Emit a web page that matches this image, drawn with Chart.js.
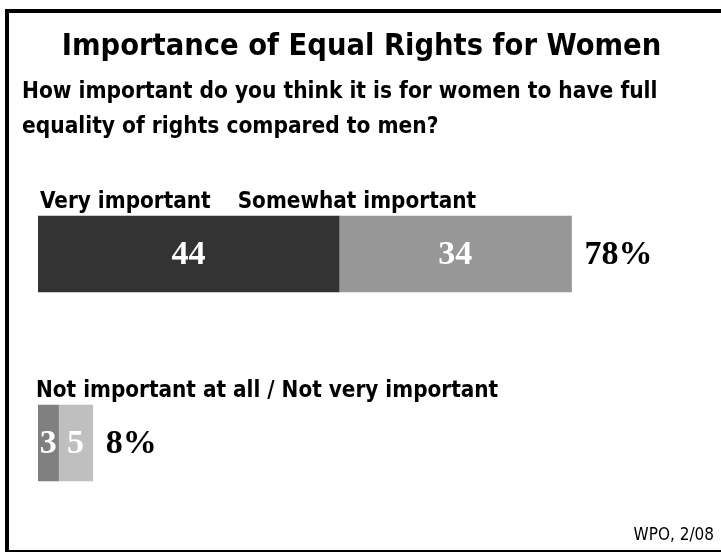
<!DOCTYPE html>
<html>
<head>
<meta charset="utf-8">
<script src="https://cdn.jsdelivr.net/npm/chart.js@4.4.1/dist/chart.umd.min.js"></script>
<style>
  html, body { margin: 0; padding: 0; background: #ffffff; }
  #wrap { width: 721px; height: 554px; }
</style>
</head>
<body>
<div id="wrap"><canvas id="c" width="721" height="554"></canvas></div>
<script>
// ---- Data ----
const categories = ['Important', 'Not important'];
const veryImportant = [44, null];
const somewhatImportant = [34, null];
const notAtAll = [null, 3];
const notVery = [null, 5];
const totals = [78, 8];
const rowHeaders = [['Very important', 'Somewhat important'], ['Not important at all / Not very important']];
const titleText = 'Importance of Equal Rights for Women';
const subtitleLines = ['How important do you think it is for women to have full', 'equality of rights compared to men?'];
const footnote = 'WPO, 2/08';

const SANS = '"DejaVu Sans Condensed", "DejaVu Sans", sans-serif';
const SERIF = '"Liberation Serif", "DejaVu Serif", serif';

const decorPlugin = {
  id: 'decor',
  beforeDraw(chart) {
    const ctx = chart.ctx;
    ctx.save();
    ctx.fillStyle = '#ffffff';
    ctx.fillRect(0, 0, chart.width, chart.height);
    ctx.fillStyle = '#000000';
    ctx.fillRect(5, 9, chart.width - 5, 4);    // top border
    ctx.fillRect(5, 9, 4, chart.height - 11);  // left border
    ctx.fillRect(5, 550, chart.width - 5, 2);  // bottom border
    // title
    ctx.fillStyle = '#000';
    ctx.textBaseline = 'alphabetic';
    ctx.font = 'bold 30.5px ' + SANS;
    ctx.textAlign = 'center';
    ctx.fillText(titleText, chart.width / 2 + 1, 55);
    // subtitle
    ctx.font = 'bold 22.5px ' + SANS;
    ctx.textAlign = 'left';
    ctx.fillText(subtitleLines[0], 22, 98);
    ctx.fillText(subtitleLines[1], 22, 133);
    // footnote
    ctx.font = '17px ' + SANS;
    ctx.textAlign = 'right';
    ctx.fillText(footnote, 714, 540);
    ctx.restore();
  },
  afterDatasetsDraw(chart) {
    const ctx = chart.ctx;
    const xs = chart.scales.x;
    ctx.save();
    // segment values
    chart.data.datasets.forEach((ds, di) => {
      const meta = chart.getDatasetMeta(di);
      meta.data.forEach((el, i) => {
        const v = ds.data[i];
        if (v === null || v === undefined) return;
        const cx = (el.x + el.base) / 2;
        ctx.fillStyle = '#ffffff';
        ctx.font = 'bold 34px ' + SERIF;
        ctx.textAlign = 'center';
        ctx.textBaseline = 'middle';
        ctx.fillText(String(v), cx, el.y + 1);
      });
    });
    // totals and row headers
    categories.forEach((cat, i) => {
      let sum = 0;
      chart.data.datasets.forEach(ds => { if (ds.data[i] != null) sum += ds.data[i]; });
      const endX = xs.getPixelForValue(sum);
      let el = null;
      chart.data.datasets.forEach((ds, di) => { if (ds.data[i] != null && !el) el = chart.getDatasetMeta(di).data[i]; });
      const y = el.y;
      const top = y - el.height / 2;
      ctx.fillStyle = '#000';
      ctx.font = 'bold 34px ' + SERIF;
      ctx.textAlign = 'left';
      ctx.textBaseline = 'middle';
      ctx.fillText(totals[i] + '%', endX + 13, y + 1);
      // headers
      ctx.font = 'bold 22.3px ' + SANS;
      ctx.textBaseline = 'alphabetic';
      let hx = chart.chartArea.left + (i === 0 ? 2 : -2);
      rowHeaders[i].forEach(h => {
        ctx.fillText(h, hx, top - 8);
        hx += ctx.measureText(h).width + 27;
      });
    });
    ctx.restore();
  }
};

const unitPx = 6.84;
const xMax = 95;
const padLeft = 38;
const padRight = 721 - padLeft - unitPx * xMax;

new Chart(document.getElementById('c'), {
  type: 'bar',
  data: {
    labels: categories,
    datasets: [
      { label: 'Very important', data: veryImportant, backgroundColor: '#333333' },
      { label: 'Somewhat important', data: somewhatImportant, backgroundColor: '#979797' },
      { label: 'Not important at all', data: notAtAll, backgroundColor: '#808080' },
      { label: 'Not very important', data: notVery, backgroundColor: '#bfbfbf' }
    ]
  },
  options: {
    indexAxis: 'y',
    responsive: false,
    animation: false,
    devicePixelRatio: 1,
    datasets: { bar: { barThickness: 76, borderWidth: 0 } },
    layout: { padding: { left: padLeft, right: padRight, top: 159.5, bottom: 16.5 } },
    scales: {
      x: { stacked: true, min: 0, max: xMax, display: false },
      y: { stacked: true, display: false }
    },
    plugins: {
      legend: { display: false },
      tooltip: { enabled: false },
      title: { display: false }
    }
  },
  plugins: [decorPlugin]
});
</script>
</body>
</html>
